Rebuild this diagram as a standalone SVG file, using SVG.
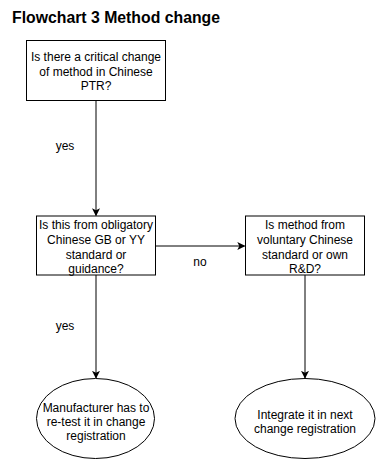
<svg xmlns="http://www.w3.org/2000/svg" width="376" height="461" viewBox="0 0 376 461">
<defs>
<marker id="ah" viewBox="0 0 10 10" refX="9" refY="5" markerWidth="8" markerHeight="8" markerUnits="userSpaceOnUse" orient="auto">
<path d="M0,0 L10,5 L0,10 L2.5,5 Z" fill="#000"/>
</marker>
<style>
.n{fill:#fff;stroke:#000;stroke-width:1}
.t{font-family:"Liberation Sans",Arial,sans-serif;font-size:12px;fill:#000;text-anchor:middle}
.c{fill:none;stroke:#000;stroke-width:1;marker-end:url(#ah)}
.l{font-family:"Liberation Sans",Arial,sans-serif;font-size:12px;fill:#000;text-anchor:middle}
</style>
</defs>
<rect width="376" height="461" fill="#fff"/>
<text x="12" y="23" font-family="'Liberation Sans',Arial,sans-serif" font-size="15.8" font-weight="bold" fill="#000">Flowchart 3 Method change</text>
<g id="connectors">
<path class="c" d="M96,100 V215.5"/>
<path class="c" d="M155,246 H244.5"/>
<path class="c" d="M96,275 V378"/>
<path class="c" d="M305,275 V378"/>
<text class="l" x="65" y="150">yes</text>
<text class="l" x="200" y="266">no</text>
<text class="l" x="65" y="330">yes</text>
</g>
<g id="n1">
<rect class="n" x="26.5" y="40.5" width="139" height="60"/>
<text class="t" x="96" y="61">Is there a critical change</text>
<text class="t" x="96" y="76">of method in Chinese</text>
<text class="t" x="96" y="90">PTR?</text>
</g>
<g id="n2">
<rect class="n" x="36.5" y="216" width="119" height="59"/>
<text class="t" x="96" y="228.5">Is this from obligatory</text>
<text class="t" x="96" y="243.5">Chinese GB or YY</text>
<text class="t" x="96" y="258.5">standard or</text>
<text class="t" x="96" y="272.5">guidance?</text>
</g>
<g id="n3">
<rect class="n" x="245.5" y="216" width="119" height="59"/>
<text class="t" x="305" y="228.5">Is method from</text>
<text class="t" x="305" y="243.5">voluntary Chinese</text>
<text class="t" x="305" y="258.5">standard or own</text>
<text class="t" x="305" y="272.5">R&amp;D?</text>
</g>
<g id="n4">
<ellipse class="n" cx="95.5" cy="418.5" rx="59" ry="40"/>
<text class="t" x="96" y="411.5">Manufacturer has to</text>
<text class="t" x="96" y="426">re-test it in change</text>
<text class="t" x="96" y="440">registration</text>
</g>
<g id="n5">
<ellipse class="n" cx="305" cy="418.5" rx="70" ry="40"/>
<text class="t" x="305" y="418.5">Integrate it in next</text>
<text class="t" x="305" y="433">change registration</text>
</g>
</svg>
